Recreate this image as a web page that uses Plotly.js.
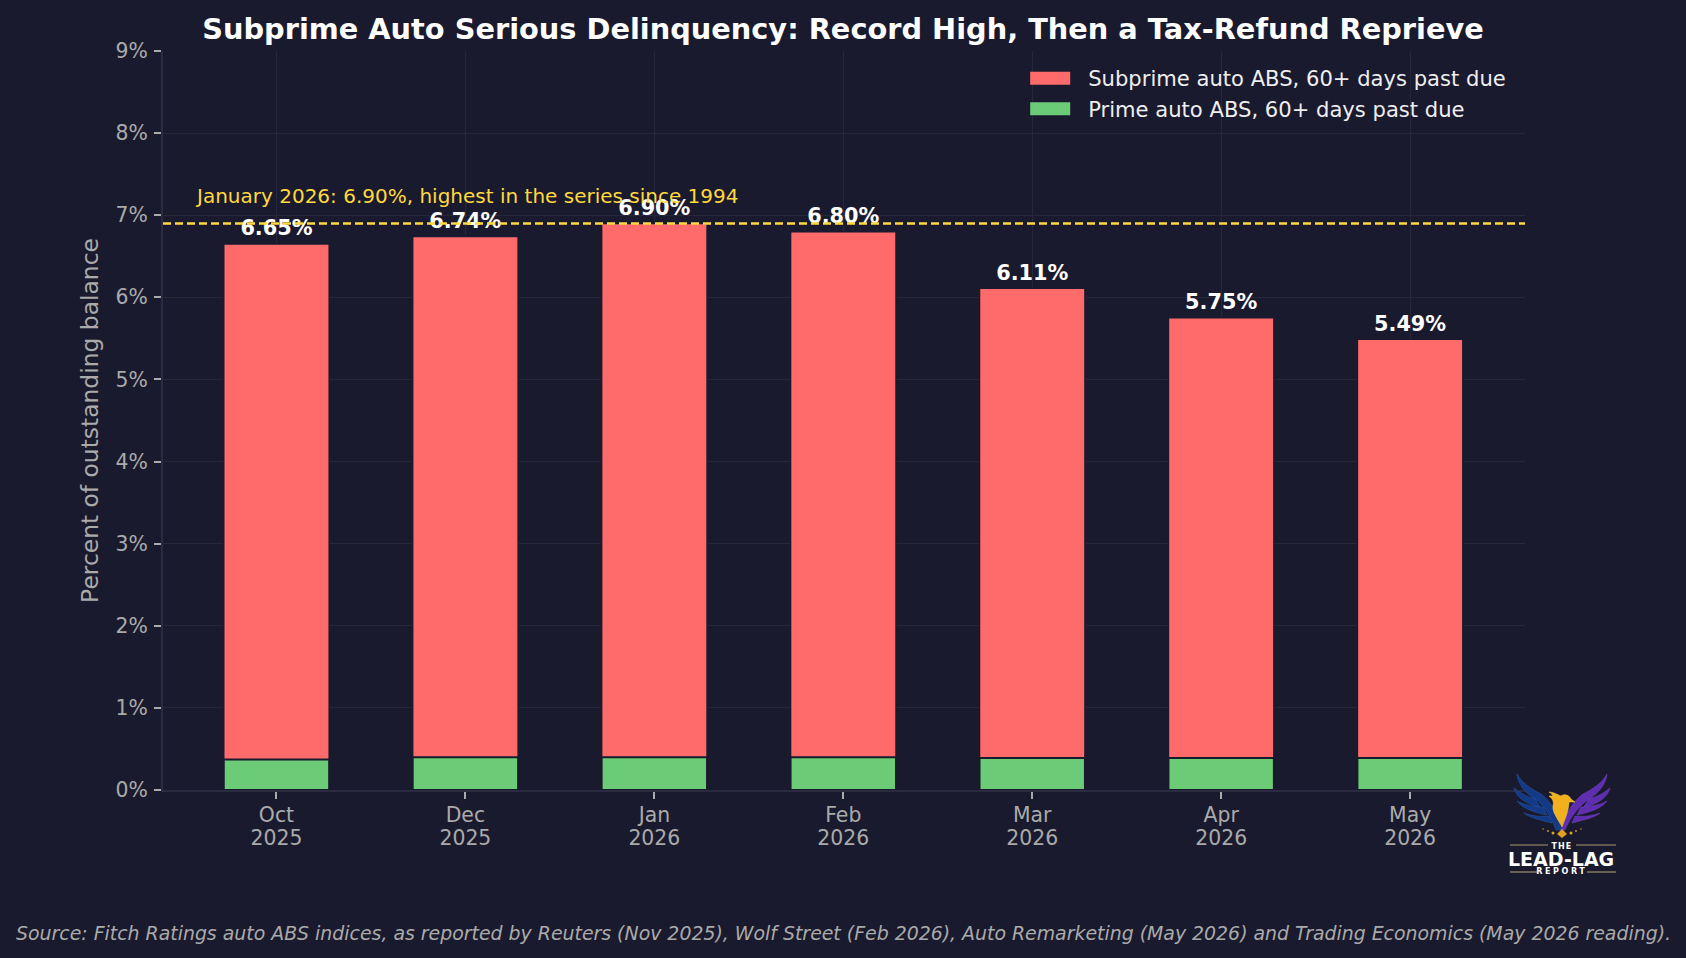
<!DOCTYPE html>
<html><head><meta charset="utf-8">
<script src="https://cdn.plot.ly/plotly-3.0.1.min.js"></script>
<style>html,body{margin:0;padding:0;background:#1a1a2e}#c{width:1686px;height:958px}</style>
</head><body><div id="c"></div>
<script>
const categories = ["Oct<br>2025","Dec<br>2025","Jan<br>2026","Feb<br>2026","Mar<br>2026","Apr<br>2026","May<br>2026"];
const subprime = [6.65,6.74,6.90,6.80,6.11,5.75,5.49];
const prime = [0.37,0.40,0.40,0.40,0.39,0.39,0.39];
const labels = ["6.65%","6.74%","6.90%","6.80%","6.11%","5.75%","5.49%"];
const peak = 6.90;
const yTicks = [0,1,2,3,4,5,6,7,8,9];
const yTickLabels = ["0%","1%","2%","3%","4%","5%","6%","7%","8%","9%"];
const title = "Subprime Auto Serious Delinquency: Record High, Then a Tax-Refund Reprieve";
const source = "Source: Fitch Ratings auto ABS indices, as reported by Reuters (Nov 2025), Wolf Street (Feb 2026), Auto Remarketing (May 2026) and Trading Economics (May 2026 reading).";

const BG="#1a1a2e", FONT="DejaVu Sans";
const L=162.5,R=1525,T=51,B=790;
const px=x=>(x-L)/(R-L), py=y=>(B-y)/(B-T);

const logoSvg = `<svg xmlns="http://www.w3.org/2000/svg" viewBox="0 0 110 80" width="440" height="320">
<g fill="#123a86" stroke="#2a5cb0" stroke-width=".5">
<path d="M9 2C10 12 17 21 27 27C36 33 43 44 48 58L53 58C50 43 44 30 33 22C23 17 14 11 9 2Z"/>
<path d="M6 16C8 25 18 32 33 36L27 27C19 25 12 21 6 16Z"/>
<path d="M9 29C14 36 25 40 39 43L35 35C26 35 16 33 9 29Z"/>
<path d="M16 41C22 46 33 48 44 51L41 44C32 45 24 44 16 41Z"/>
</g>
<g fill="#5f2db0" stroke="#7a45cc" stroke-width=".5">
<path d="M99 2C98 12 91 21 81 27C72 33 63 44 57 58L53 58C57 43 64 30 75 22C85 17 94 11 99 2Z"/>
<path d="M102 16C100 25 90 32 75 36L81 27C89 25 96 21 102 16Z"/>
<path d="M99 29C94 36 83 40 69 43L73 35C82 35 92 33 99 29Z"/>
<path d="M92 41C86 46 75 48 64 51L67 44C76 45 84 44 92 41Z"/>
</g>
<path d="M41 20C46 20 50 23 53 24C57 21 62 24 63 27L67 30L61 30C61 37 58 45 54 55C50 47 44 40 45 34C46 30 45 27 41 24C43 24 44 24 45 24C44 22 43 21 41 20Z" fill="#f2b01e" stroke="#ffd34d" stroke-width=".5"/>
<g fill="#e0a020"><path d="M49 62L54 57L59 62L54 66Z"/><circle cx="45" cy="61" r="1.5"/><circle cx="63" cy="61" r="1.5"/><circle cx="40" cy="59" r=".9"/><circle cx="68" cy="59" r=".9"/><circle cx="35" cy="57" r=".7"/><circle cx="73" cy="57" r=".7"/></g>
<g stroke="#b9a878" stroke-width=".9"><path d="M2 73H40M68 73H108"/></g>
</svg>`;
const logoBottom = `<svg xmlns="http://www.w3.org/2000/svg" viewBox="0 0 110 4" width="440" height="16"><path d="M2 2H29M79 2H108" stroke="#b9a878" stroke-width="1"/></svg>`;

const traces = [
 {type:"bar",name:"Subprime auto ABS, 60+ days past due",x:categories,y:subprime,width:0.558,legendgroup:"a",
  marker:{color:"#ff6b6b",line:{color:BG,width:1.5}},hoverinfo:"skip"},
 {type:"bar",name:"Prime auto ABS, 60+ days past due",x:categories,y:prime,width:0.558,legendgroup:"b",
  marker:{color:"#6bcb77",line:{color:BG,width:2}},hoverinfo:"skip"},
 {type:"scatter",mode:"markers+text",x:categories,y:subprime,text:labels,textposition:"top center",
  marker:{size:4,opacity:0},
  textfont:{family:FONT,size:20.8,color:"#ffffff",weight:"bold"},showlegend:false,hoverinfo:"skip",cliponaxis:false}
];
const layout = {
 width:1686,height:958,paper_bgcolor:BG,plot_bgcolor:BG,barmode:"overlay",
 margin:{l:L,r:1686-R,t:T,b:958-B,pad:0},
 font:{family:FONT,color:"#aaaaaa"},
 showlegend:true,
 title:{text:"<b>"+title+"</b>",font:{family:FONT,size:28.8,color:"#ffffff"},x:(202+1484)/2/1686,xanchor:"center",y:1-28.5/958,yanchor:"middle"},
 xaxis:{type:"category",categoryarray:categories,range:[-0.6005,6.608],tickfont:{family:FONT,size:20.4,color:"#aaaaaa"},
  showgrid:true,gridcolor:"#27273a",gridwidth:1,showline:true,linecolor:"#2a2a40",linewidth:2,
  ticks:"outside",ticklen:7,tickwidth:2,tickcolor:"#aaaaaa",zeroline:false,fixedrange:true},
 yaxis:{range:[0,9],tickmode:"array",tickvals:yTicks,ticktext:yTickLabels,tickfont:{family:FONT,size:20.4,color:"#aaaaaa"},
  ticklabelstandoff:2,
  showgrid:true,gridcolor:"#27273a",gridwidth:1,showline:true,linecolor:"#2a2a40",linewidth:2,
  ticks:"outside",ticklen:7,tickwidth:2,tickcolor:"#aaaaaa",zeroline:false,fixedrange:true,
  title:{text:"Percent of outstanding balance",font:{family:FONT,size:23.4,color:"#aaaaaa"},standoff:10}},
 legend:{x:px(1020),y:py(58),xanchor:"left",yanchor:"top",bgcolor:"rgba(0,0,0,0)",borderwidth:0,
  font:{family:FONT,size:21.1,color:"#eeeeee"},itemwidth:58,tracegroupgap:0,itemclick:false,itemdoubleclick:false},
 shapes:[{type:"line",xref:"paper",x0:0,x1:1,yref:"y",y0:peak,y1:peak,layer:"above",line:{color:"#ffd93d",width:2.4,dash:"8px 4px"}}],
 annotations:[
  {xref:"paper",yref:"y",x:px(193),y:7.23,xanchor:"left",yanchor:"middle",showarrow:false,
   text:"January 2026: 6.90%, highest in the series since 1994",font:{family:FONT,size:20,color:"#ffd93d"}},
  {xref:"paper",yref:"paper",x:px(843),y:py(933),xanchor:"center",yanchor:"middle",showarrow:false,
   text:"<i>"+source+"</i>",font:{family:FONT,size:18.9,color:"#aaaaaa"}},
  {xref:"paper",yref:"paper",x:px(1562),y:py(846),xanchor:"center",yanchor:"middle",showarrow:false,
   text:"<b>THE</b>",font:{family:FONT,size:8,color:"#ffffff"}},
  {xref:"paper",yref:"paper",x:px(1561.5),y:py(859),xanchor:"center",yanchor:"middle",showarrow:false,
   text:"<b>LEAD-LAG</b>",font:{family:FONT,size:19,color:"#ffffff"}},
  {xref:"paper",yref:"paper",x:px(1562),y:py(872),xanchor:"center",yanchor:"middle",showarrow:false,
   text:"<b>REPORT</b>",font:{family:FONT,size:8,color:"#ffffff"}}
 ],
 images:[
  {source:"data:image/svg+xml;utf8,"+encodeURIComponent(logoSvg),xref:"paper",yref:"paper",x:px(1508),y:py(772),
   sizex:110/(R-L),sizey:80/(B-T),xanchor:"left",yanchor:"top",sizing:"stretch",layer:"above"},
  {source:"data:image/svg+xml;utf8,"+encodeURIComponent(logoBottom),xref:"paper",yref:"paper",x:px(1508),y:py(870),
   sizex:110/(R-L),sizey:4/(B-T),xanchor:"left",yanchor:"top",sizing:"stretch",layer:"above"}
 ]
};
Plotly.newPlot("c",traces,layout,{displayModeBar:false}).then(gd=>{
  gd.querySelectorAll(".legend .legendbar path, .legend .legendpoints path").forEach(p=>{
    p.setAttribute("d","M16,6.5H-24V-6.5H16Z");
    p.style.strokeWidth="0";
  });
  gd.querySelectorAll(".legend .legendtoggle").forEach(t=>t.remove());
  gd.querySelectorAll(".xtick text").forEach(t=>{
    const lines=t.querySelectorAll("tspan.line");
    if(lines.length===2){
      lines[0].setAttribute("dy","-0.05em");
      lines[1].setAttribute("dy","1.05em");
    }
  });
  gd.querySelectorAll(".annotation-text").forEach(t=>{
    if(t.textContent==="REPORT") t.style.letterSpacing="2.6px";
    if(t.textContent==="THE") t.style.letterSpacing="1px";
  });
});
</script></body></html>
